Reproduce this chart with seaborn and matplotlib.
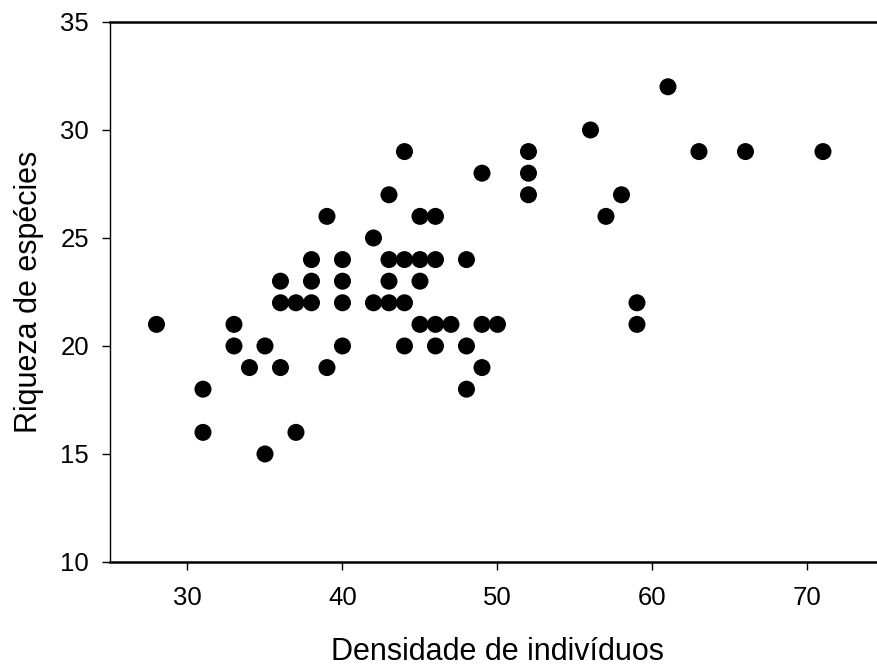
import matplotlib
matplotlib.use("Agg")
import matplotlib.pyplot as plt
import seaborn as sns
import pandas as pd

# Individual density (x) and species richness (y) for each sampling unit
densidade = [28, 31, 31, 33, 33, 34, 35, 35, 36, 36, 36, 37, 37,
             38, 38, 38, 39, 39, 40, 40, 40, 40, 42, 42,
             43, 43, 43, 43, 44, 44, 44, 44, 45, 45, 45, 45,
             46, 46, 46, 46, 47, 48, 48, 48, 49, 49, 49, 50,
             52, 52, 52, 56, 57, 58, 59, 59, 61, 63, 66, 71]
riqueza = [21, 18, 16, 21, 20, 19, 20, 15, 23, 22, 19, 22, 16,
           24, 23, 22, 26, 19, 24, 23, 22, 20, 25, 22,
           27, 24, 23, 22, 29, 24, 22, 20, 26, 24, 23, 21,
           26, 24, 21, 20, 21, 24, 20, 18, 28, 21, 19, 21,
           29, 28, 27, 30, 26, 27, 22, 21, 32, 29, 29, 29]

x_ticks = [30, 40, 50, 60, 70]
y_ticks = [10, 15, 20, 25, 30, 35]

df = pd.DataFrame({"Densidade de indivíduos": densidade,
                   "Riqueza de espécies": riqueza})

sns.set_style("white")
plt.rcParams["font.family"] = ["Liberation Sans", "DejaVu Sans"]
plt.rcParams["text.color"] = "black"
plt.rcParams["axes.labelcolor"] = "black"

fig = plt.figure(figsize=(8.77, 6.66), dpi=100)
ax = fig.add_axes([0.1254, 0.1562, 0.8837, 0.8108])

sns.scatterplot(data=df, x="Densidade de indivíduos", y="Riqueza de espécies",
                ax=ax, color="black", s=150, edgecolor="none", linewidth=0,
                clip_on=False)

ax.set_xlim(25, 75)
ax.set_ylim(10, 35)
ax.set_xticks(x_ticks)
ax.set_yticks(y_ticks)

ax.spines["right"].set_visible(False)
ax.spines["top"].set_visible(True)
for side in ("top", "bottom"):
    ax.spines[side].set_linewidth(1.8)
    ax.spines[side].set_color("black")
ax.spines["left"].set_linewidth(1.0)
ax.spines["left"].set_color("black")

ax.tick_params(axis="both", direction="out", length=6, width=1.0,
               color="black", labelsize=18.5, labelcolor="black")
ax.tick_params(axis="x", pad=11, bottom=True)
ax.tick_params(axis="y", pad=9, left=True)

ax.set_xlabel("Densidade de indivíduos", fontsize=22, labelpad=20,
              color="black")
ax.set_ylabel("Riqueza de espécies", fontsize=22, labelpad=12,
              color="black")

fig.savefig("out.png", dpi=100)
